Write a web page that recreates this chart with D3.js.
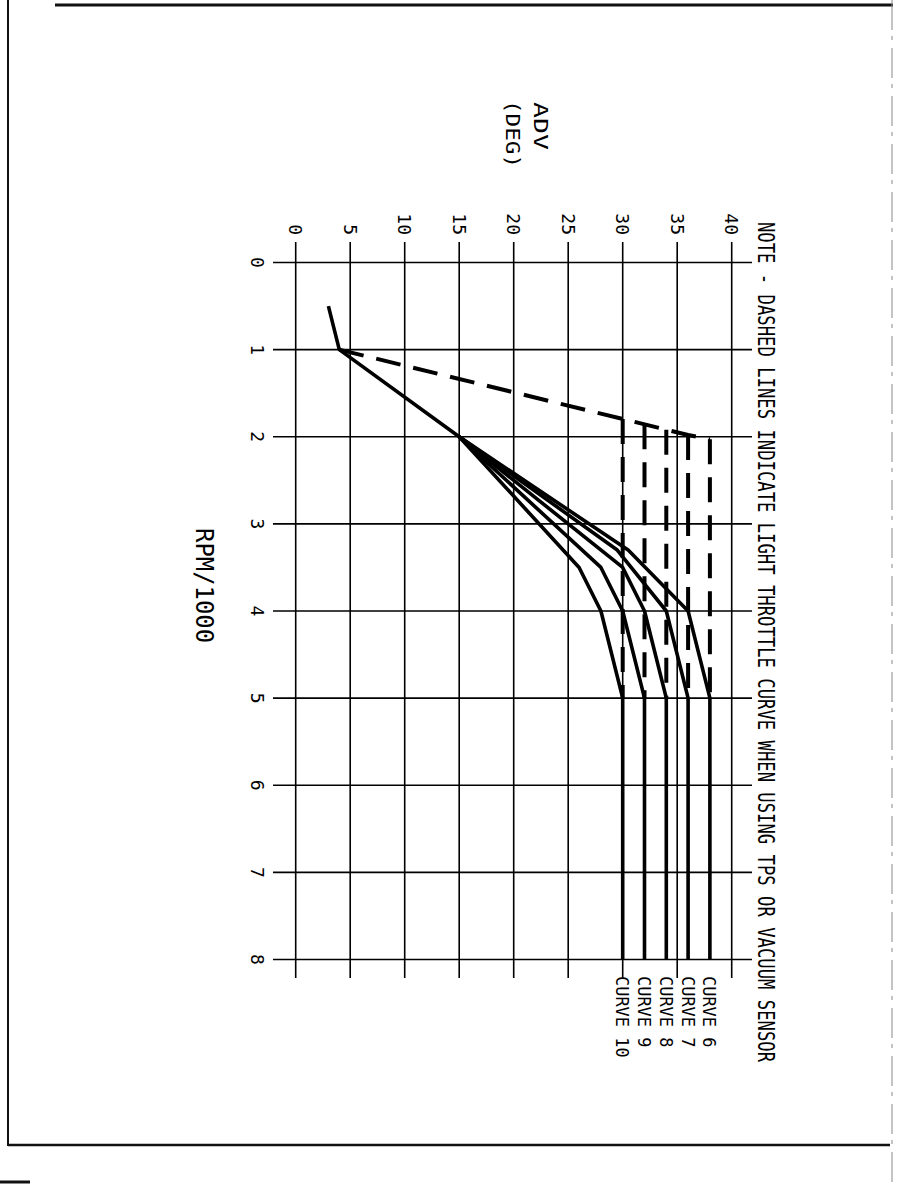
<!DOCTYPE html>
<html><head><meta charset="utf-8">
<script src="https://cdn.jsdelivr.net/npm/d3@7"></script>
<style>html,body{margin:0;padding:0;background:#fff;}svg{display:block;}</style>
</head><body>
<script>
// ---- data ----
const advTicks = [0,5,10,15,20,25,30,35,40];
const rpmTicks = [0,1,2,3,4,5,6,7,8];
const curveNames = ["CURVE 6","CURVE 7","CURVE 8","CURVE 9","CURVE 10"];
const sharedRpm = [0.5, 1, 2];
const sharedAdv = [3, 4, 15];
const curve6 = [[2,15],[3.3,30.5],[4,36],[5,38],[8,38]];
const curve7 = [[2,15],[3.3,29.5],[4,34],[5,36],[8,36]];
const curve8 = [[2,15],[3.5,30],[4,32],[5,34],[8,34]];
const curve9 = [[2,15],[3.5,28],[4,30],[5,32],[8,32]];
const curve10 = [[2,15],[3.5,26],[4,28],[5,30],[8,30]];
const lightRpm = [1, 1.98, 2.03];
const lightAdv = [4, 36, 38];
const lightFinalAdv = [38,36,34,32,30];
const lightEndRpm = 5;
const noteText = "NOTE - DASHED LINES INDICATE LIGHT THROTTLE CURVE WHEN USING TPS OR VACUUM SENSOR";

const W=918,H=1188;
const svg=d3.select("body").append("svg").attr("width",W).attr("height",H);
const x=d3.scaleLinear().domain([0,40]).range([295.7,731.7]);
const y=d3.scaleLinear().domain([0,8]).range([262.5,959.5]);
const FONT="'DejaVu Sans Mono', monospace";

// frame
const fr=svg.append("g").attr("stroke","#111").attr("fill","none");
fr.append("line").attr("x1",55).attr("x2",893).attr("y1",5).attr("y2",5).attr("stroke-width",3);
fr.append("line").attr("x1",8).attr("x2",8).attr("y1",0).attr("y2",1146).attr("stroke-width",2);
fr.append("line").attr("x1",8).attr("x2",890).attr("y1",1145).attr("y2",1145).attr("stroke-width",2.5);
fr.append("line").attr("x1",892).attr("x2",892).attr("y1",0).attr("y2",1188).attr("stroke-width",1).attr("stroke","#888").attr("stroke-dasharray","30,6,4,8");
fr.append("line").attr("x1",0).attr("x2",30).attr("y1",1182).attr("y2",1182).attr("stroke-width",3);

// grid
const g=svg.append("g").attr("stroke","#000").attr("stroke-width",1.6);
g.selectAll(".vg").data(advTicks).join("line")
 .attr("x1",d=>x(d)).attr("x2",d=>x(d)).attr("y1",242).attr("y2",978);
g.selectAll(".hg").data(rpmTicks).join("line")
 .attr("y1",d=>y(d)).attr("y2",d=>y(d)).attr("x1",273).attr("x2",752);

function rotText(px,py,txt,anchor,size,len,sy){
  const t=svg.append("text").attr("transform",`translate(${px},${py}) rotate(90)`+(sy?` scale(1,${sy})`:""))
   .attr("text-anchor",anchor).attr("font-family",FONT).attr("font-size",size).attr("fill","#000").text(txt);
  if(len) t.attr("textLength",len).attr("lengthAdjust","spacingAndGlyphs");
  return t;
}
// ADV tick labels
advTicks.forEach(d=>rotText(x(d)-6.5,235,String(d),"end",18));
// RPM tick labels
rpmTicks.forEach(d=>rotText(251,y(d),String(d),"middle",18));

// titles
rotText(534,102,"ADV","start",20,48);
rotText(506,100,"(DEG)","start",20,68);
rotText(196,528,"RPM/1000","start",24,115);
rotText(758,222,noteText,"start",19,840,1.22);

// curves
const line=d3.line().x(d=>x(d[1])).y(d=>y(d[0]));
const cg=svg.append("g").attr("fill","none").attr("stroke","#000").attr("stroke-width",3.6).attr("stroke-linejoin","round");
cg.append("path").attr("d",line(sharedRpm.map((r,i)=>[r,sharedAdv[i]])));
[curve6,curve7,curve8,curve9,curve10].forEach(c=>cg.append("path").attr("d",line(c)));

// light throttle dashed
const dg=svg.append("g").attr("fill","none").attr("stroke","#000").attr("stroke-width",4).attr("stroke-dasharray","25,13");
dg.append("path").attr("d",line(lightRpm.map((r,i)=>[r,lightAdv[i]])));
const advToRpm=d3.scaleLinear().domain(lightAdv).range(lightRpm);
lightFinalAdv.forEach(v=>{
  dg.append("path").attr("d",line([[advToRpm(v),v],[lightEndRpm,v]]));
});

// curve labels
curveNames.forEach((n,i)=>rotText(x(lightFinalAdv[i])-6.5,976,n,"start",17,n.length*10.2));
</script>
</body></html>
